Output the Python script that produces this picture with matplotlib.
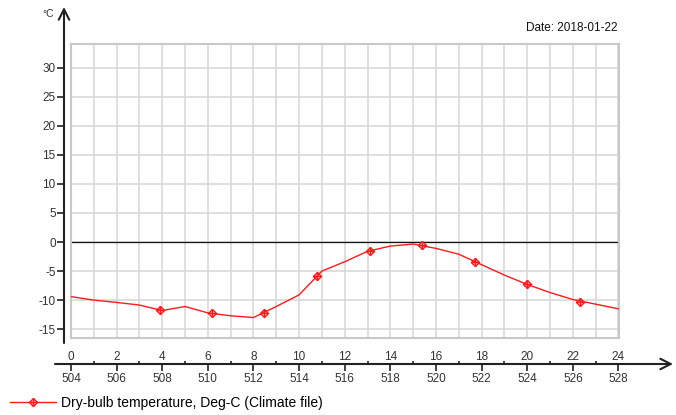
import matplotlib
matplotlib.use("Agg")
import matplotlib.pyplot as plt
from matplotlib.path import Path

plt.rcParams["font.family"] = ["Liberation Sans", "DejaVu Sans"]

# hourly dry-bulb temperature, 2018-01-22 (hour of year 504..528)
hours = list(range(25))
temps = [-9.4, -10.0, -10.4, -10.85, -11.8, -11.1, -12.2, -12.7, -13.0,
         -11.1, -9.1, -5.0, -3.4, -1.6, -0.7, -0.35, -1.1, -2.1, -3.9,
         -5.7, -7.3, -8.7, -9.9, -10.7, -11.5]
# marker positions as they appear on the curve
marker_hours = [3.9, 6.16, 8.46, 10.77, 13.1, 15.38, 17.7, 20.0, 22.33]
marker_temps = [-11.7, -12.3, -12.2, -5.8, -1.5, -0.5, -3.4, -7.3, -10.3]

hour_ticks = list(range(0, 25, 2))
hour_of_year = [504 + h for h in hour_ticks]
y_ticks = [-15, -10, -5, 0, 5, 10, 15, 20, 25, 30]

W, H = 676, 415
RED = "#ff1a1a"
AXC = "#333333"


def fx(px):
    return px / W


def fy(py):
    return 1 - py / H


# open diamond with a cross inside
verts = [(0, 1), (1, 0), (0, -1), (-1, 0), (0, 1), (0, 1), (0, -1), (-1, 0), (1, 0)]
codes = [Path.MOVETO, Path.LINETO, Path.LINETO, Path.LINETO, Path.LINETO,
         Path.MOVETO, Path.LINETO, Path.MOVETO, Path.LINETO]
diamond_plus = Path(verts, codes)
mk = dict(marker=diamond_plus, ms=5.8, mfc="none", mec=RED, mew=1.0)

fig = plt.figure(figsize=(W / 100, H / 100), dpi=100)

# plotting area
left, right, top, bottom = 71, 619, 44.3, 338.3
ax = fig.add_axes([fx(left), fy(bottom), fx(right - left), fy(top) - fy(bottom)])
ax.set_xlim(0, 24 * (right - left) / 547.5)
zero_px, per_unit = 242.0, 5.81
ax.set_ylim((zero_px - bottom) / per_unit, (zero_px - top) / per_unit)
ax.set_xticks(hour_ticks)
ax.set_xticklabels([str(h) for h in hour_ticks])
ax.set_xticks(range(1, 24, 2), minor=True)
ax.set_yticks(y_ticks)
ax.set_yticklabels([])
ax.tick_params(axis="both", which="both", length=0)
ax.tick_params(axis="x", pad=9.5, labelsize=8.5, colors=AXC)
ax.grid(True, which="both", color="#d6d6d6", lw=1.1)
ax.set_axisbelow(True)
for s in ax.spines.values():
    s.set_color("#c8c8c8")
    s.set_linewidth(1.5)
ax.axhline(0, color="#111111", lw=0.9, zorder=2)

ax.plot(hours, temps, color=RED, lw=1.0, zorder=3)
ax.plot(marker_hours, marker_temps, ls="none", zorder=4, **mk)

# separate y axis with arrow
ax_y = fig.add_axes([fx(64), fy(343), 0.0001, fy(7) - fy(343)])
ax_y.set_ylim((zero_px - 343) / per_unit, (zero_px - 7) / per_unit)
ax_y.set_yticks(y_ticks)
ax_y.set_yticklabels([str(v) for v in y_ticks])
ax_y.set_xticks([])
for s in ax_y.spines.values():
    s.set_visible(False)
ax_y.tick_params(axis="y", length=5, width=1.3, color=AXC, pad=1,
                 labelsize=8.5, labelcolor=AXC)
ax_y.patch.set_visible(False)
ax_y.annotate("", xy=(0, 1), xytext=(0, 0), xycoords="axes fraction",
              arrowprops=dict(arrowstyle="->,head_length=0.75,head_width=0.38",
                              lw=1.5, color="#222222", shrinkA=0, shrinkB=0))

# separate x axis with arrow (hour of year below)
ax_x = fig.add_axes([fx(55), fy(364), fx(673 - 55), 0.0001])
px_per_hour = 547.5 / 24
ax_x.set_xlim((55 - left) / px_per_hour, (673 - left) / px_per_hour)
ax_x.set_xticks(hour_ticks)
ax_x.set_xticklabels([str(v) for v in hour_of_year])
ax_x.set_xticks(range(1, 24, 2), minor=True)
ax_x.set_yticks([])
for s in ax_x.spines.values():
    s.set_visible(False)
ax_x.tick_params(axis="x", which="major", length=5, width=1.3, color=AXC,
                 direction="out", pad=1.5, labelsize=8.5, labelcolor=AXC)
ax_x.tick_params(axis="x", which="minor", length=2.5, width=1.3, color=AXC,
                 direction="in")
ax_x.patch.set_visible(False)
ax_x.annotate("", xy=(1, 0), xytext=(0, 0), xycoords="axes fraction",
              arrowprops=dict(arrowstyle="->,head_length=0.75,head_width=0.38",
                              lw=1.5, color="#222222", shrinkA=0, shrinkB=0))

fig.text(fx(48), fy(14), "°C", fontsize=7.5, color=AXC, ha="center", va="center")
fig.text(fx(617), fy(28), "Date: 2018-01-22", fontsize=8.5, color="#111111",
         ha="right", va="center")

handle, = ax.plot([], [], color=RED, lw=1.0, **mk)
fig.legend([handle], ["Dry-bulb temperature, Deg-C (Climate file)"],
           loc="center left", bbox_to_anchor=(fx(10), fy(403)), frameon=False,
           fontsize=10, handlelength=3.3, handletextpad=0.35, borderpad=0,
           borderaxespad=0, numpoints=1)

fig.savefig("out.png", dpi=100)
